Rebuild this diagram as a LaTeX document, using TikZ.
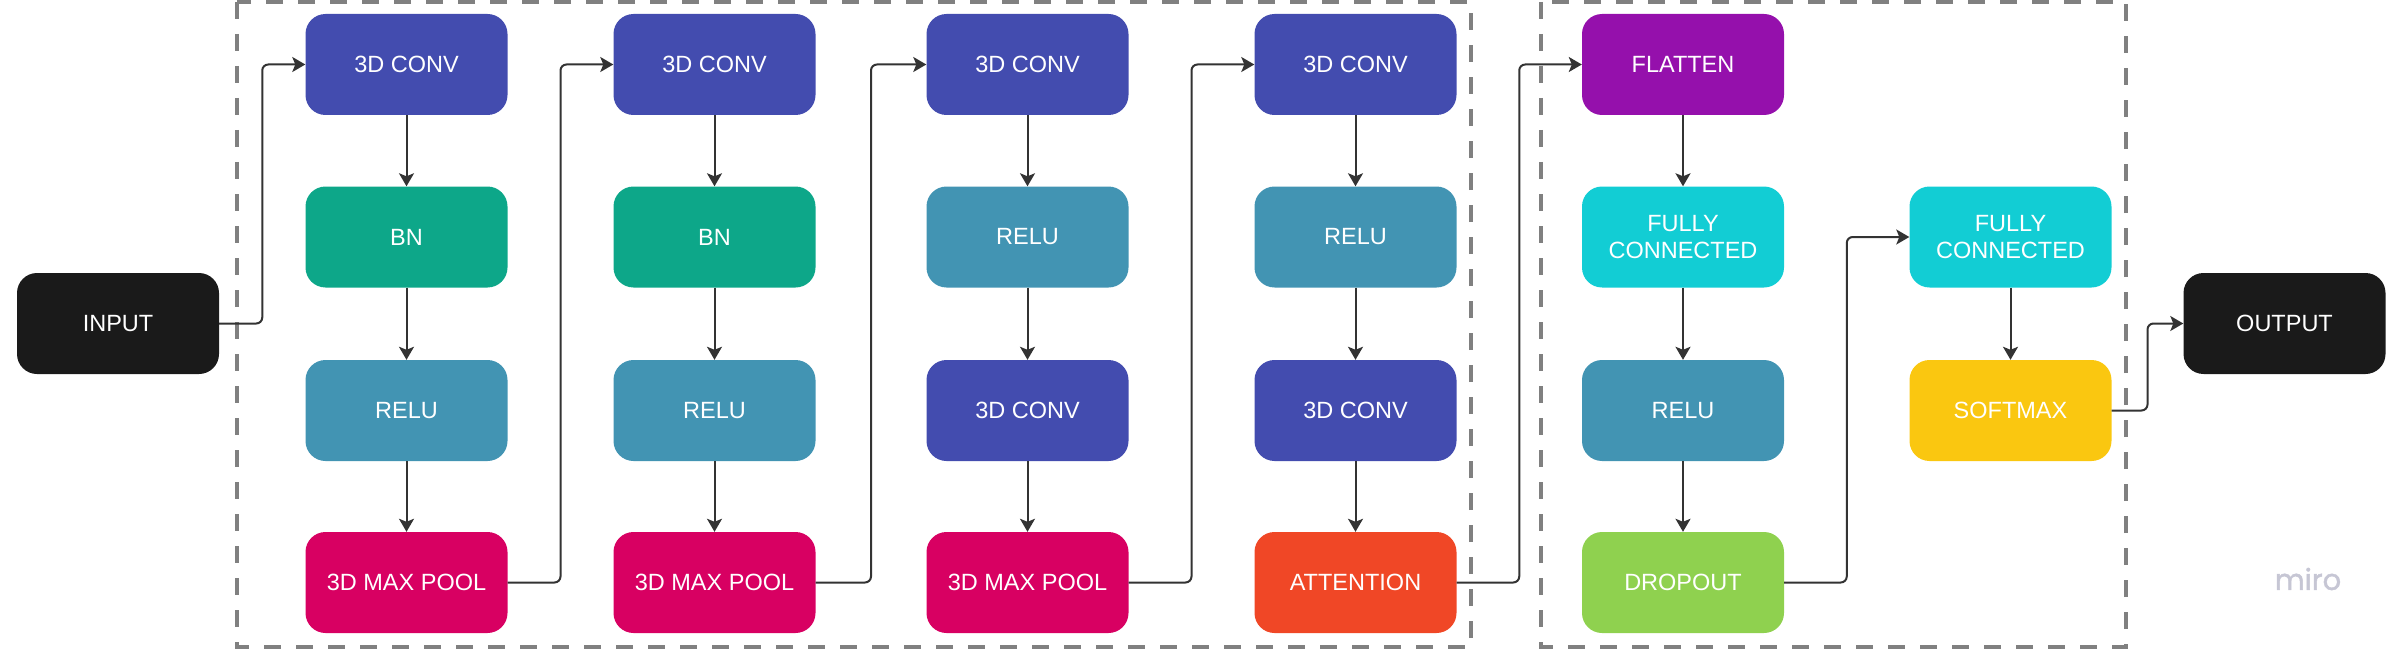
\documentclass[tikz,border=0pt]{standalone}
\usepackage{fontspec}
\setmainfont{Liberation Sans}
\newfontfamily\mirofont[AutoFakeBold=1.6]{Poppins}
\usetikzlibrary{arrows.meta,calc}
\definecolor{cconv}{HTML}{434CAF}
\definecolor{cbn}{HTML}{0DA789}
\definecolor{crelu}{HTML}{4294B3}
\definecolor{cpool}{HTML}{D80062}
\definecolor{catt}{HTML}{F04726}
\definecolor{cflat}{HTML}{9510AC}
\definecolor{cfc}{HTML}{12CDD4}
\definecolor{cdrop}{HTML}{8FD14F}
\definecolor{csoft}{HTML}{FAC710}
\definecolor{cblack}{HTML}{1A1A1A}
\definecolor{cdash}{HTML}{808080}
\definecolor{cline}{HTML}{333333}
\definecolor{cmiro}{HTML}{C6C6D4}
\tikzset{
  blk/.style={rectangle, rounded corners=20pt, minimum width=202pt, minimum height=101pt,
    inner sep=0pt, text=white, align=center,
    font=\fontsize{23.5}{27}\selectfont},
  conn/.style={draw=cline, line width=2pt, rounded corners=6pt,
    -{Stealth[length=13pt,width=15pt,inset=3pt]}},
  grp/.style={draw=cdash, line width=4pt, dash pattern=on 17pt off 15pt}
}
\begin{document}
\begin{tikzpicture}[x=1pt,y=-1pt]
\useasboundingbox (0,0) rectangle (2402,650);
% groups
\draw[grp] (237,2) rectangle (1471,647);
\draw[grp] (1541,2) rectangle (2126,647);
% nodes
\node[blk, fill=cblack] (in) at (118,323.5) {INPUT};
\node[blk, fill=cblack] (out) at (2284.5,323.5) {OUTPUT};
% column 1
\node[blk, fill=cconv] (a1) at (406.5,64.5) {3D CONV};
\node[blk, fill=cbn]   (a2) at (406.5,237) {BN};
\node[blk, fill=crelu] (a3) at (406.5,410.5) {RELU};
\node[blk, fill=cpool] (a4) at (406.5,582.5) {3D MAX POOL};
% column 2
\node[blk, fill=cconv] (b1) at (714.5,64.5) {3D CONV};
\node[blk, fill=cbn]   (b2) at (714.5,237) {BN};
\node[blk, fill=crelu] (b3) at (714.5,410.5) {RELU};
\node[blk, fill=cpool] (b4) at (714.5,582.5) {3D MAX POOL};
% column 3
\node[blk, fill=cconv] (c1) at (1027.5,64.5) {3D CONV};
\node[blk, fill=crelu] (c2) at (1027.5,237) {RELU};
\node[blk, fill=cconv] (c3) at (1027.5,410.5) {3D CONV};
\node[blk, fill=cpool] (c4) at (1027.5,582.5) {3D MAX POOL};
% column 4
\node[blk, fill=cconv] (d1) at (1355.5,64.5) {3D CONV};
\node[blk, fill=crelu] (d2) at (1355.5,237) {RELU};
\node[blk, fill=cconv] (d3) at (1355.5,410.5) {3D CONV};
\node[blk, fill=catt]  (d4) at (1355.5,582.5) {ATTENTION};
% column 5
\node[blk, fill=cflat] (e1) at (1683,64.5) {FLATTEN};
\node[blk, fill=cfc]   (e2) at (1683,237) {FULLY\\CONNECTED};
\node[blk, fill=crelu] (e3) at (1683,410.5) {RELU};
\node[blk, fill=cdrop] (e4) at (1683,582.5) {DROPOUT};
% column 6
\node[blk, fill=cfc]   (f1) at (2010.5,237) {FULLY\\CONNECTED};
\node[blk, fill=csoft] (f2) at (2010.5,410.5) {SOFTMAX};
% watermark
\node[text=cmiro, font=\mirofont\bfseries\fontsize{29}{32}\selectfont, inner sep=0pt] (miro) at (2308,579) {miro};
% vertical connectors
\foreach \p/\q in {a1/a2,a2/a3,a3/a4,b1/b2,b2/b3,b3/b4,c1/c2,c2/c3,c3/c4,d1/d2,d2/d3,d3/d4,e1/e2,e2/e3,e3/e4,f1/f2}
  \draw[conn] (\p.south) -- (\q.north);
% stepped connectors
\foreach \p/\q in {in/a1,a4/b1,b4/c1,c4/d1,d4/e1,e4/f1,f2/out}
  \draw[conn] (\p.east) -| ($(\p.east)!.5!(\q.west)$) |- (\q.west);
\end{tikzpicture}
\end{document}
